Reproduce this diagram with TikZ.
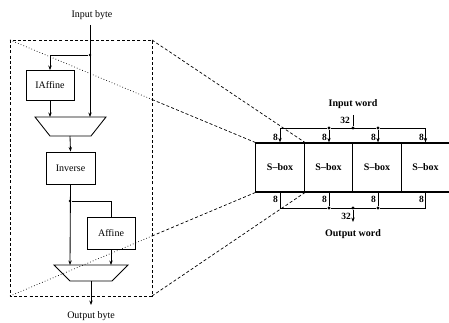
\documentclass[tikz,border=0pt]{standalone}
\usepackage{fontspec}
\setmainfont{Liberation Serif}
\usetikzlibrary{arrows.meta}
\begin{document}
\begin{tikzpicture}[x=1pt,y=-1pt,
  line width=0.85pt,
  arr/.style={-{Stealth[length=4.5pt,width=3.4pt]}},
  blk/.style={draw,line width=0.85pt,minimum width=48pt,minimum height=30pt,inner sep=0pt,font=\fontsize{10}{11}\selectfont},
  sbox/.style={draw,line width=1.2pt,minimum width=48.5pt,minimum height=49pt,inner sep=0pt,font=\bfseries\fontsize{10}{11}\selectfont},
  lbl/.style={font=\fontsize{10}{11}\selectfont,inner sep=0pt},
  blbl/.style={font=\bfseries\fontsize{10}{11}\selectfont,inner sep=0pt},
  num/.style={font=\bfseries\fontsize{9.5}{10}\selectfont,inner sep=0pt},
  dot/.style={circle,fill,inner sep=0pt,minimum size=3.2pt},
  zoomdash/.style={dash pattern=on 3pt off 2.2pt,line width=0.7pt},
  zoomdot/.style={dash pattern=on 0.7pt off 2.2pt,line width=0.7pt}]
\useasboundingbox (0,0) rectangle (449,323);
\clip (0,0) rectangle (449,323);
% left part
\node[lbl] (inbyte) at (92,15) {Input byte};
\node[blk] (iaff) at (50,85.5) {IAffine};
\node[blk,minimum width=49pt,minimum height=32pt] (inv) at (70.5,168) {Inverse};
\node[blk,minimum height=32pt] (aff) at (111,233) {Affine};
\node[lbl] (outbyte) at (91,316) {Output byte};
% muxes
\draw (35,117) -- (106,117) -- (91,136) -- (50,136) -- cycle;
\coordinate (m1a) at (50,117);
\coordinate (m1b) at (90,117);
\coordinate (m1o) at (70,136);
\draw (54,265) -- (128,265) -- (112,281) -- (70,281) -- cycle;
\coordinate (m2a) at (70,265);
\coordinate (m2b) at (111,265);
\coordinate (m2o) at (91,281);
\coordinate (inTop) at (90,25);
\coordinate (outEnd) at (91,305);
\node[dot,minimum size=2.8pt] (j1) at (90,55) {};
\node[dot,minimum size=2.8pt] (j2) at (70,201) {};
\draw[arr] (inTop) -- (m1b);
\draw[arr] (j1) -| (iaff.north);
\draw[arr] (iaff.south) -- (m1a);
\draw[arr] (m1o) -- (inv.north);
\draw[arr] (inv.south) -- (m2a);
\draw (j2) -| (aff.north);
\draw[arr] (aff.south) -- (m2b);
\draw[arr] (m2o) -- (outEnd);
% dashed frame
\coordinate (fTL) at (10,40);
\coordinate (fTR) at (152,40);
\coordinate (fBL) at (10,296);
\coordinate (fBR) at (152,296);
\draw[zoomdash] (fTL) rectangle (fBR);
% S-boxes
\node[sbox] (s1) at (280,167.5) {S--box};
\node[sbox] (s2) at (328.5,167.5) {S--box};
\node[sbox] (s3) at (377,167.5) {S--box};
\node[sbox] (s4) at (425.5,167.5) {S--box};
% zoom lines
\coordinate (xA) at (152,99.5);
\coordinate (xC) at (152,236);
\draw[zoomdot] (fTL) -- (xA);
\draw[zoomdash] (xA) -- (s1.north west);
\draw[zoomdash] (fTR) -- (s1.north east);
\draw[zoomdot] (fBL) -- (xC);
\draw[zoomdash] (xC) -- (s1.south west);
\draw[zoomdash] (fBR) -- (s1.south east);
% input bus
\node[blbl] (inword) at (353,104) {Input word};
\node[dot] (b1) at (329,128) {};
\node[dot] (b2) at (353,128) {};
\node[dot] (b3) at (378,128) {};
\draw (353,115) -- (b2);
\node[num] at (345,120.5) {32};
\draw[arr] (b1) -| (s1.north);
\draw (b1) -- (b3);
\draw[arr] (b3) -| (s4.north);
\draw[arr] (b1) -- (b1 |- s2.north);
\draw[arr] (b3) -- (b3 |- s3.north);
\node[num] at (275.5,137) {8};
\node[num] at (324.5,137) {8};
\node[num] at (373.5,137) {8};
\node[num] at (421.5,137) {8};
% output bus
\node[dot] (c1) at (329,208) {};
\node[dot] (c2) at (353,208) {};
\node[dot] (c3) at (378,208) {};
\draw (s1.south) |- (c1);
\draw (c1) -- (c3);
\draw (s4.south) |- (c3);
\draw (c1 |- s2.south) -- (c1);
\draw (c3 |- s3.south) -- (c3);
\coordinate (outW) at (353,222);
\draw[arr] (c2) -- (outW);
\node[num] at (346,216) {32};
\node[num] at (275.5,199) {8};
\node[num] at (324.5,199) {8};
\node[num] at (373.5,199) {8};
\node[num] at (421.5,199) {8};
\node[blbl] (outword) at (353,234) {Output word};
\end{tikzpicture}
\end{document}
